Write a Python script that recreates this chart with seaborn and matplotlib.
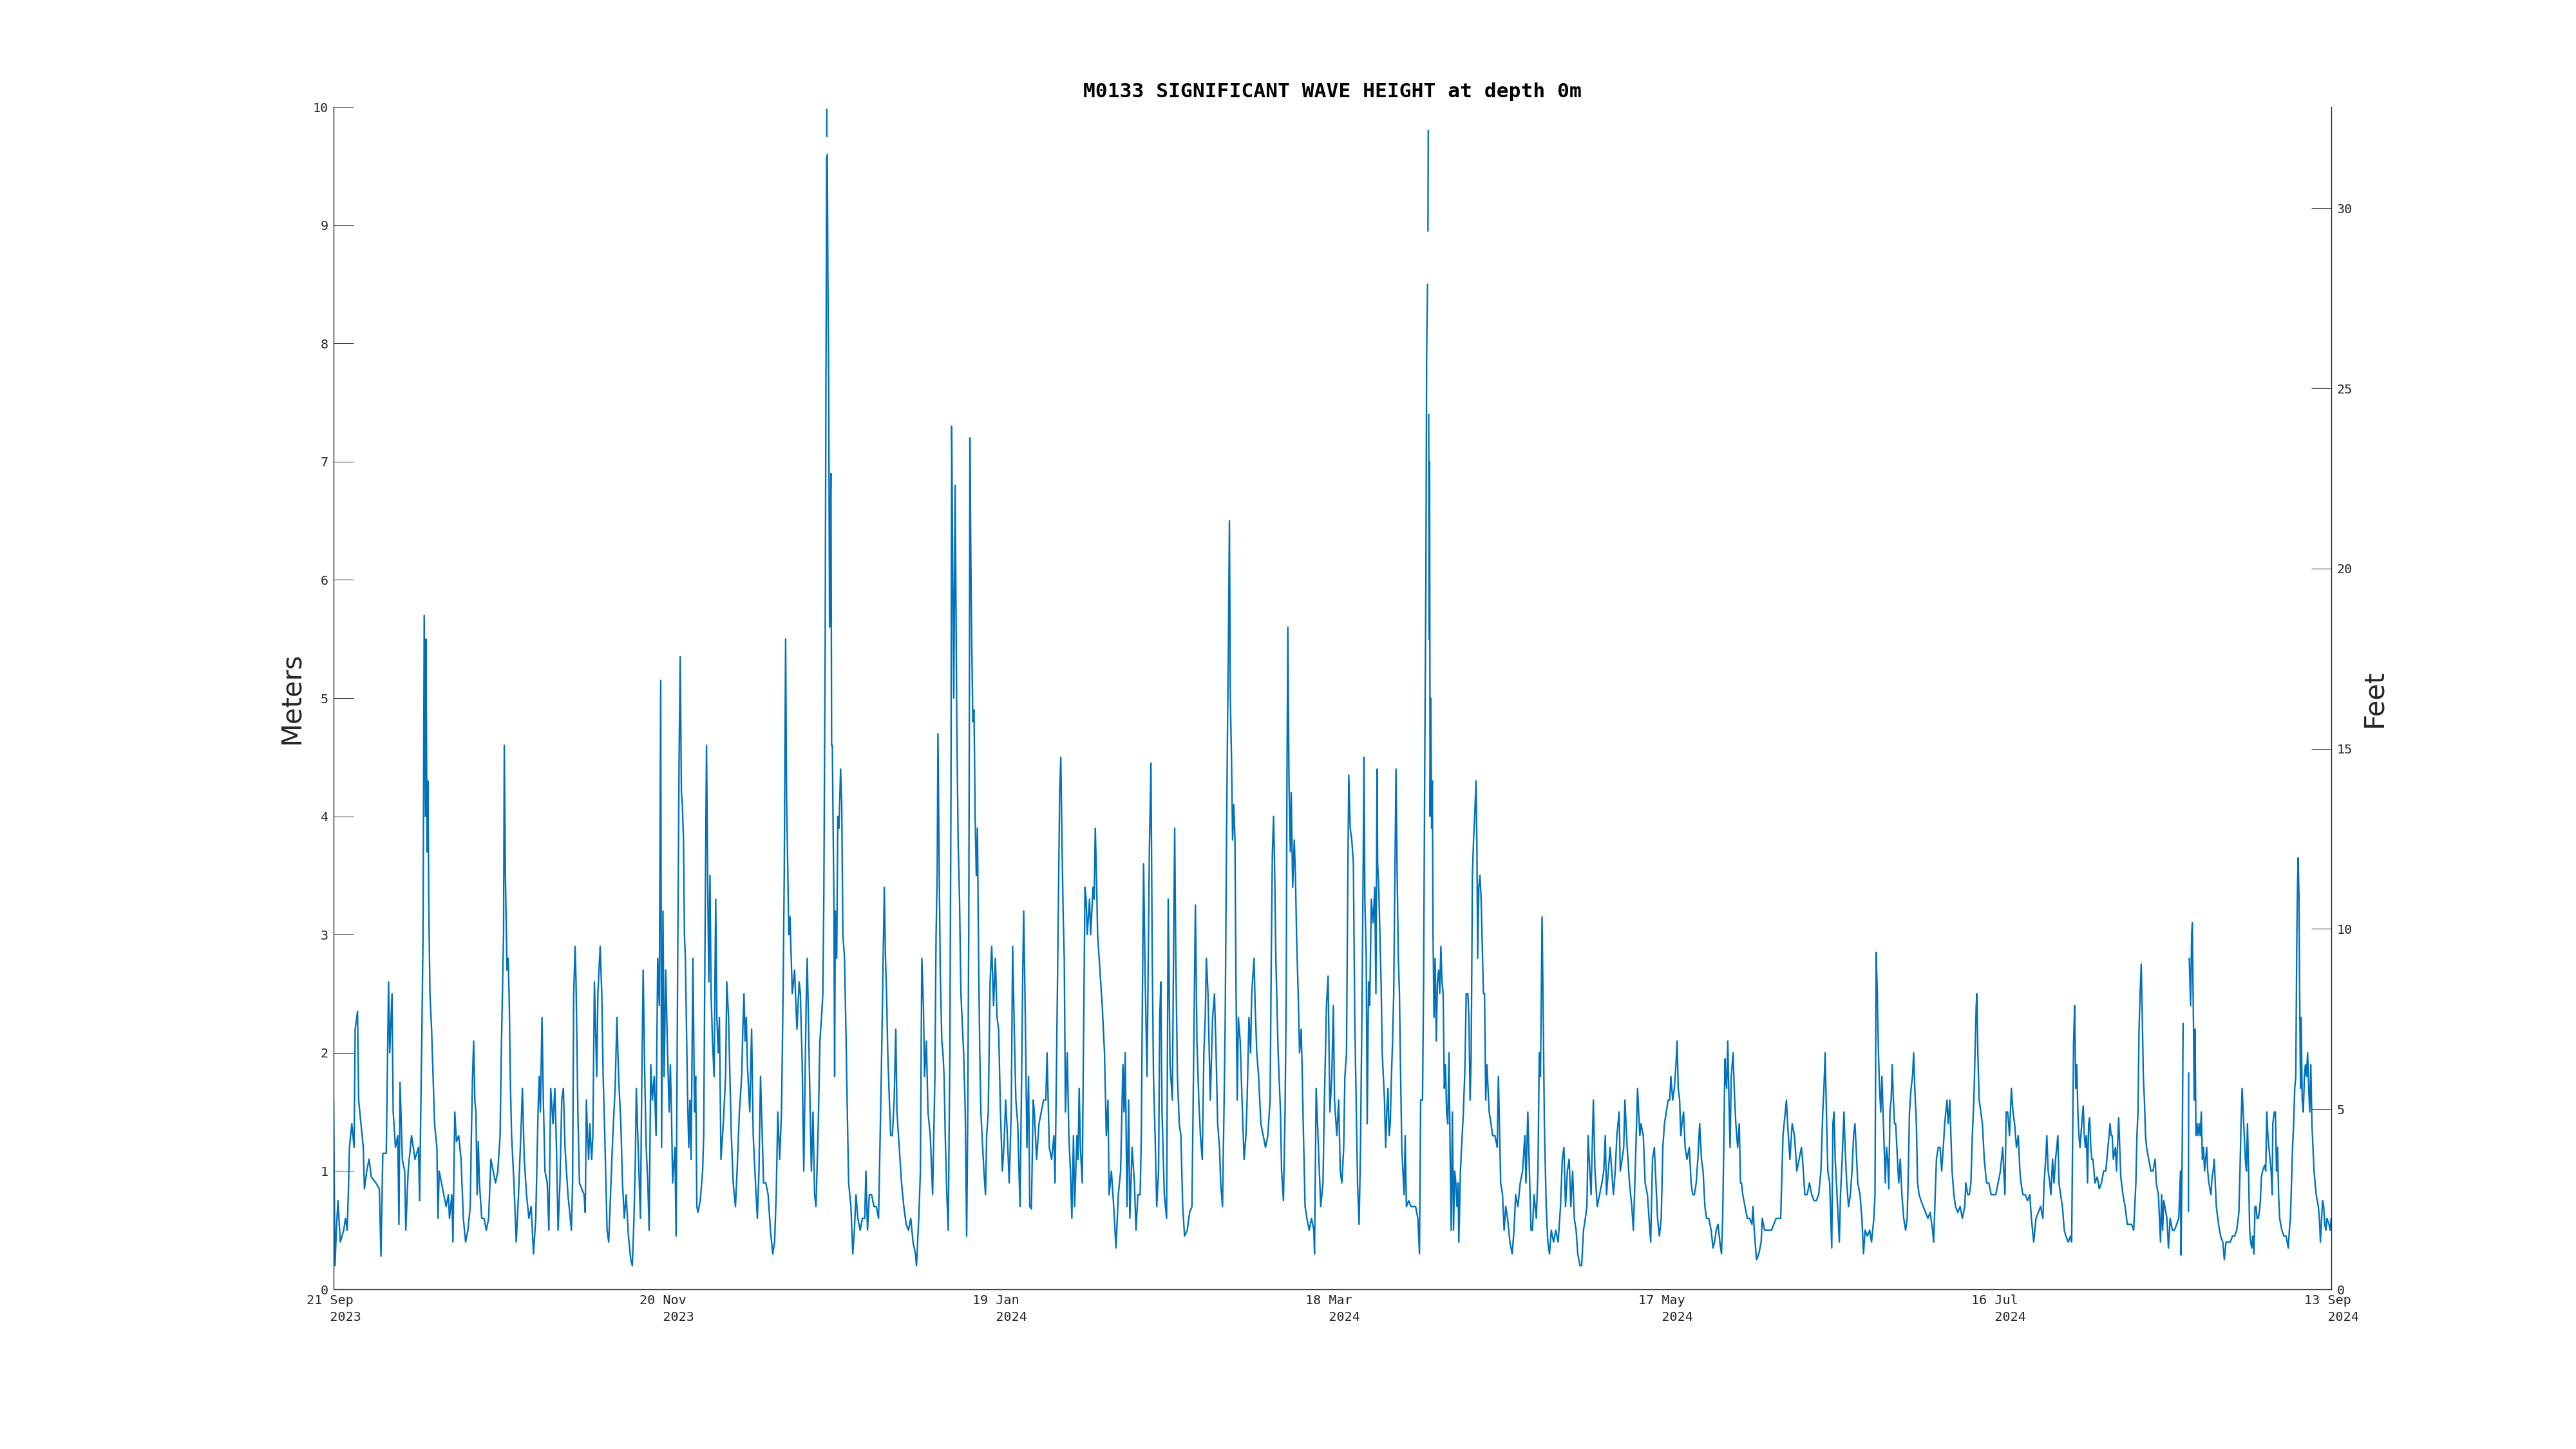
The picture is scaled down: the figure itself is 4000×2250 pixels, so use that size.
import numpy as np
import pandas as pd
import matplotlib
matplotlib.use("Agg")
import matplotlib.pyplot as plt
import matplotlib.dates as mdates
import seaborn as sns

nan = np.nan

# (days since start, significant wave height in metres)
seg1 = [(0.0, 1.6), (0.08, 1.1), (0.25, 0.2), (0.5, 0.5), (0.78, 0.75), (1.2, 0.4), (1.81, 0.5), (2.14, 0.6), (2.43, 0.5), (2.64, 0.8), (2.84, 1.2), (3.26, 1.4), (3.67, 1.2), (3.87, 2.2), (4.29, 2.35), (4.49, 1.6), (4.91, 1.4), (5.32, 1.2), (5.52, 0.85), (5.94, 1.0), (6.35, 1.1), (6.76, 0.95), (7.58, 0.9), (8.2, 0.85), (8.49, 0.28), (8.82, 1.15), (9.44, 1.15), (9.65, 1.9), (9.85, 2.6), (10.06, 2.0), (10.47, 2.5), (10.68, 1.5), (11.09, 1.2), (11.5, 1.3), (11.71, 0.55), (11.91, 1.75), (12.32, 1.1), (12.74, 1.0), (12.94, 0.5), (13.36, 1.0), (13.97, 1.3), (14.59, 1.1), (15.21, 1.2), (15.42, 0.75), (15.62, 1.5), (15.83, 2.2), (16.03, 3.0), (16.24, 5.7), (16.45, 4.0), (16.57, 5.5), (16.74, 3.7), (16.9, 4.3), (17.07, 3.2), (17.27, 2.5), (17.56, 2.2), (17.89, 1.7), (18.1, 1.4), (18.51, 1.2), (18.71, 0.6), (18.92, 1.0), (19.33, 0.9), (19.74, 0.8), (20.16, 0.7), (20.57, 0.8), (20.77, 0.6), (21.19, 0.8), (21.39, 0.4), (21.72, 1.5), (22.01, 1.25), (22.42, 1.3), (22.84, 1.1), (23.25, 0.6), (23.66, 0.4), (24.07, 0.5), (24.49, 0.7), (24.69, 1.3), (24.9, 1.8), (25.1, 2.1), (25.31, 1.6), (25.51, 1.5), (25.72, 0.8), (25.93, 1.25), (26.13, 0.9), (26.55, 0.6), (26.96, 0.6), (27.37, 0.5), (27.78, 0.6), (28.19, 1.1), (28.61, 1.0), (29.02, 0.9), (29.43, 1.0), (29.84, 1.3), (30.05, 2.0), (30.26, 2.5), (30.46, 3.0), (30.59, 4.6), (30.79, 3.5), (31.08, 2.7), (31.29, 2.8), (31.49, 2.4), (31.7, 1.7), (31.9, 1.3), (32.32, 0.9), (32.73, 0.4), (33.14, 0.8), (33.55, 1.3), (33.84, 1.7), (34.17, 1.1), (34.58, 0.8), (35.0, 0.6), (35.41, 0.7), (35.82, 0.3), (36.23, 0.6), (36.64, 1.5), (36.85, 1.8), (37.06, 1.5), (37.35, 2.3), (37.59, 1.6), (37.88, 1.0), (38.29, 0.9), (38.58, 0.5), (38.91, 1.7), (39.32, 1.4), (39.65, 1.7), (39.94, 1.2), (40.23, 0.5), (40.56, 0.9), (40.89, 1.6), (41.18, 1.7), (41.47, 1.2), (42.0, 0.8), (42.41, 0.6), (42.62, 0.5), (42.83, 0.9), (43.03, 2.5), (43.28, 2.9), (43.45, 2.6), (43.78, 1.5), (44.06, 0.9), (44.48, 0.85), (44.89, 0.8), (45.1, 0.65), (45.3, 1.6), (45.51, 1.3), (45.71, 1.1), (45.92, 1.4), (46.25, 1.1), (46.46, 1.3), (46.74, 2.6), (46.95, 2.2), (47.16, 1.8), (47.36, 2.5), (47.77, 2.9), (48.06, 2.5), (48.31, 1.8), (48.6, 1.3), (49.01, 0.5), (49.3, 0.4), (49.63, 0.8), (50.04, 1.3), (50.45, 1.7), (50.78, 2.3), (51.07, 1.8), (51.48, 1.4), (51.77, 0.9), (52.1, 0.6), (52.43, 0.8), (52.84, 0.45), (53.26, 0.25), (53.54, 0.2), (53.83, 0.6), (54.08, 1.1), (54.25, 1.7), (54.58, 1.2), (54.99, 0.6), (55.24, 1.8), (55.48, 2.7), (55.73, 1.9), (56.02, 1.2), (56.31, 0.9), (56.55, 0.5), (56.84, 1.9), (57.13, 1.6), (57.46, 1.8), (57.79, 1.3), (58.08, 2.8), (58.37, 2.4), (58.62, 5.15), (58.78, 1.2), (59.03, 3.2), (59.23, 1.8), (59.52, 2.7), (59.85, 2.0), (60.14, 1.5), (60.35, 1.9), (60.55, 1.5), (60.76, 0.9), (61.17, 1.2), (61.38, 0.45), (61.67, 2.8), (61.92, 4.5), (62.12, 5.35)]

seg2 = [(62.33, 4.2), (62.5, 4.1), (62.71, 3.8), (62.87, 3.0), (63.04, 2.8), (63.24, 2.2), (63.45, 1.6), (63.65, 1.2), (63.86, 1.6), (64.07, 1.1), (64.4, 2.8), (64.68, 1.5), (64.89, 1.8), (65.1, 0.7), (65.3, 0.65), (65.71, 0.75), (66.13, 1.0), (66.33, 1.3), (66.54, 2.8), (66.83, 4.6), (67.03, 3.5), (67.24, 2.6), (67.45, 3.5), (67.65, 2.5), (67.9, 2.1), (68.19, 1.8), (68.48, 3.3), (68.68, 2.3), (68.93, 2.0), (69.14, 2.3), (69.42, 1.1), (69.84, 1.4), (70.25, 1.8), (70.46, 2.6), (70.78, 2.3), (71.07, 1.7), (71.28, 1.3), (71.61, 0.9), (72.02, 0.7), (72.31, 1.0), (72.72, 1.5), (73.13, 1.8), (73.34, 2.2), (73.55, 2.5), (73.75, 2.1), (73.96, 2.3), (74.16, 1.9), (74.58, 1.5), (74.91, 2.2), (75.2, 1.3), (75.61, 0.9), (75.94, 0.6), (76.23, 1.0), (76.51, 1.8), (76.76, 1.4), (77.05, 0.9), (77.46, 0.9), (77.87, 0.8), (78.29, 0.5), (78.7, 0.3), (79.03, 0.4), (79.32, 0.8), (79.61, 1.5), (79.94, 1.1), (80.27, 1.5), (80.55, 2.5), (80.76, 3.5), (81.01, 5.5), (81.17, 4.2), (81.34, 3.7), (81.58, 3.0), (81.79, 3.15), (82.2, 2.5), (82.61, 2.7), (83.03, 2.2), (83.44, 2.6), (83.65, 2.5), (83.98, 1.9), (84.26, 1.0), (84.68, 2.4), (84.88, 2.8), (85.29, 1.8), (85.62, 1.0), (85.91, 1.5), (86.2, 0.8), (86.45, 0.7), (86.86, 1.4), (87.15, 2.1), (87.44, 2.3), (87.68, 2.5), (87.85, 3.3), (88.1, 5.5), (88.22, 7.5), (88.3, 8.5), (88.36, 9.58), (88.37, nan), (88.38, 9.75), (88.39, 9.98), (88.4, nan), (88.47, 9.6), (88.59, 8.5), (88.72, 7.7), (88.88, 5.6), (89.0, 6.4), (89.13, 6.9), (89.25, 4.6), (89.38, 4.6), (89.5, 4.0), (89.66, 3.3), (89.79, 1.8), (89.91, 3.2), (90.16, 2.8), (90.36, 4.0), (90.57, 3.9), (90.86, 4.4), (91.06, 4.1), (91.27, 3.0), (91.56, 2.8), (91.81, 2.2), (92.1, 1.4), (92.3, 0.9), (92.71, 0.7), (93.04, 0.3), (93.33, 0.5), (93.62, 0.8), (93.95, 0.6), (94.36, 0.5), (94.77, 0.6), (95.19, 0.6), (95.39, 1.0), (95.68, 0.5), (96.01, 0.8), (96.42, 0.8), (96.84, 0.7), (97.25, 0.7), (97.66, 0.6), (97.87, 1.1), (98.15, 1.8), (98.48, 2.8), (98.69, 3.4), (98.9, 2.8), (99.1, 2.5), (99.31, 2.0), (99.6, 1.6), (99.84, 1.3), (100.13, 1.3), (100.46, 1.6), (100.75, 2.2), (100.96, 1.5), (101.37, 1.2), (101.78, 0.9), (102.19, 0.7), (102.61, 0.55), (103.02, 0.5), (103.43, 0.6), (103.84, 0.4), (104.26, 0.3), (104.46, 0.2), (104.87, 0.6), (105.16, 1.0), (105.41, 2.8), (105.7, 2.4), (105.9, 1.8), (106.23, 2.1), (106.52, 1.5), (106.93, 1.3), (107.35, 0.8), (107.76, 1.8), (107.97, 3.0), (108.17, 3.5), (108.3, 4.7), (108.46, 3.9), (108.71, 2.7), (109.0, 2.1), (109.2, 2.0), (109.41, 1.8), (109.61, 1.3), (109.9, 0.8), (110.15, 0.5), (110.44, 2.0), (110.64, 4.2), (110.77, 7.3), (110.93, 6.2), (111.14, 5.0), (111.39, 6.8), (111.68, 4.8), (111.92, 3.8), (112.17, 3.3), (112.42, 2.5), (112.71, 2.2), (112.91, 2.0), (113.2, 1.5), (113.45, 0.45), (113.65, 1.5), (113.82, 3.0), (113.94, 4.9), (114.03, 7.2), (114.23, 6.0), (114.35, 5.5), (114.56, 4.8), (114.77, 4.9), (114.97, 4.0), (115.18, 3.5), (115.38, 3.9), (115.59, 2.8), (115.8, 2.0), (116.0, 1.5), (116.21, 1.3), (116.54, 1.0), (116.83, 0.8), (117.03, 1.3), (117.32, 1.5), (117.65, 2.6), (117.94, 2.9), (118.27, 2.4), (118.6, 2.8), (118.89, 2.3), (119.18, 2.2), (119.51, 1.5), (119.84, 1.0), (120.12, 1.2), (120.45, 1.6), (120.74, 1.3), (121.07, 0.9), (121.44, 1.5), (121.69, 2.9), (121.98, 2.2), (122.27, 1.6), (122.6, 1.4), (123.01, 0.7), (123.3, 1.8), (123.51, 2.7), (123.67, 3.2), (123.96, 2.3), (124.25, 1.2), (124.54, 1.8)]

seg3 = [(124.76, 0.7), (125.05, 0.68), (125.38, 1.6), (125.58, 1.5), (125.99, 1.1), (126.41, 1.4), (126.82, 1.5), (127.23, 1.6), (127.64, 1.6), (127.85, 2.0), (128.26, 1.2), (128.67, 1.1), (129.09, 1.3), (129.29, 0.9), (129.58, 2.0), (129.83, 3.0), (130.12, 4.2), (130.32, 4.5), (130.53, 3.8), (130.73, 3.2), (130.94, 2.8), (131.15, 1.5), (131.48, 2.0), (131.76, 1.3), (132.05, 1.0), (132.3, 0.6), (132.59, 1.3), (132.8, 0.7), (133.21, 1.3), (133.41, 1.1), (133.62, 1.7), (133.83, 1.2), (134.16, 0.9), (134.44, 2.3), (134.65, 3.4), (134.86, 3.3), (135.06, 3.0), (135.47, 3.3), (135.68, 3.0), (136.09, 3.4), (136.3, 3.3), (136.5, 3.9), (136.71, 3.5), (136.92, 3.0), (137.33, 2.7), (137.74, 2.4), (138.15, 2.0), (138.48, 1.3), (138.77, 1.6), (138.98, 0.8), (139.39, 1.0), (139.8, 0.7), (140.21, 0.35), (140.63, 0.8), (141.04, 1.0), (141.45, 1.9), (141.66, 1.5), (141.86, 2.0), (142.19, 0.7), (142.48, 1.6), (142.69, 0.6), (143.1, 1.2), (143.51, 0.9), (143.8, 0.5), (144.13, 0.8), (144.54, 0.8), (144.75, 1.3), (144.95, 2.5), (145.16, 3.6), (145.45, 2.6), (145.78, 1.8), (145.99, 2.8), (146.19, 3.7), (146.48, 4.45), (146.69, 2.9), (146.93, 1.8), (147.22, 1.3), (147.51, 0.7), (147.84, 1.0), (148.05, 2.3), (148.25, 2.6), (148.46, 1.5), (148.87, 0.8), (149.28, 0.6), (149.57, 3.3), (149.9, 1.9), (150.31, 1.6), (150.52, 2.8), (150.73, 3.9), (150.93, 2.8), (151.22, 1.8), (151.55, 1.4), (151.84, 1.3), (152.17, 0.7), (152.5, 0.45), (152.99, 0.5), (153.4, 0.65), (153.82, 0.7), (154.02, 1.5), (154.23, 2.4), (154.44, 3.25), (154.72, 2.1), (155.05, 1.6), (155.34, 1.3), (155.67, 1.1), (155.96, 2.0), (156.21, 2.3), (156.41, 2.8), (156.7, 2.5), (157.11, 1.6), (157.53, 2.3), (157.86, 2.5), (158.15, 2.0), (158.43, 1.4), (158.76, 1.2), (158.97, 0.9), (159.3, 0.7), (159.59, 1.6), (159.79, 2.3), (160.0, 3.7), (160.21, 4.8), (160.33, 5.3), (160.54, 6.5), (160.7, 5.0), (160.91, 4.5), (161.11, 3.8), (161.32, 4.1), (161.53, 3.8), (161.73, 2.5), (161.94, 1.6), (162.14, 2.3), (162.47, 2.1), (162.8, 1.6), (163.17, 1.1), (163.5, 1.3), (163.71, 1.6), (164.04, 2.3), (164.33, 2.0), (164.53, 2.5), (164.95, 2.8), (165.15, 2.4), (165.44, 2.0), (165.77, 1.8), (166.18, 1.4), (166.6, 1.3), (167.01, 1.2), (167.42, 1.3), (167.83, 1.6), (168.04, 2.8), (168.24, 3.7), (168.45, 4.0), (168.66, 3.5), (168.86, 2.8), (169.27, 2.0), (169.69, 1.5), (169.89, 1.0), (170.22, 0.75), (170.51, 1.5), (170.72, 2.5), (170.84, 4.2), (171.01, 5.6), (171.21, 4.3), (171.46, 3.7), (171.62, 4.2), (171.87, 3.4), (172.16, 3.8), (172.37, 3.5), (172.57, 3.0), (172.86, 2.5), (173.11, 2.0), (173.4, 2.2), (173.6, 1.8), (173.81, 1.3), (174.1, 0.7), (174.43, 0.6), (174.84, 0.5), (175.25, 0.6), (175.66, 0.5), (175.79, 0.3), (176.08, 1.7), (176.49, 1.2), (176.9, 0.7), (177.31, 0.9), (177.52, 1.5), (177.93, 2.4), (178.22, 2.65), (178.55, 1.5), (178.88, 1.8), (179.17, 2.4), (179.37, 1.6), (179.79, 1.3), (180.12, 1.6), (180.4, 1.0), (180.69, 0.9), (181.02, 1.2), (181.23, 1.8), (181.52, 2.0), (181.76, 3.5), (181.93, 4.35), (182.18, 3.9), (182.47, 3.8), (182.75, 3.6), (183.0, 2.3), (183.29, 1.5), (183.5, 0.9), (183.78, 0.55), (184.03, 1.2), (184.32, 2.5), (184.53, 3.7), (184.65, 4.5), (184.81, 3.3), (185.06, 2.8), (185.23, 1.4), (185.47, 2.6), (185.68, 2.4), (185.97, 3.3), (186.3, 3.1), (186.59, 3.4), (186.79, 2.5), (187.0, 4.4)]

seg4 = [(187.1, 3.6), (187.3, 3.4), (187.51, 3.0), (187.72, 2.6), (187.92, 2.0), (188.13, 1.8), (188.33, 1.6), (188.54, 1.2), (188.75, 1.5), (188.95, 1.7), (189.16, 1.3), (189.36, 1.4), (189.57, 1.8), (189.78, 2.1), (189.98, 2.5), (190.19, 3.5), (190.39, 4.4), (190.6, 3.5), (190.81, 2.8), (191.01, 2.5), (191.22, 1.8), (191.43, 1.2), (191.63, 1.0), (191.84, 0.8), (192.04, 1.3), (192.25, 0.7), (192.66, 0.75), (193.07, 0.7), (193.49, 0.7), (193.9, 0.7), (194.31, 0.6), (194.6, 0.3), (194.81, 1.6), (195.14, 1.6), (195.34, 2.6), (195.55, 4.5), (195.75, 6.0), (195.88, 7.9), (196.04, 8.5), (196.08, nan), (196.12, 8.95), (196.17, 9.8), (196.2, nan), (196.25, 7.4), (196.33, 5.5), (196.41, 7.0), (196.5, 4.0), (196.62, 5.0), (196.78, 3.9), (196.91, 4.3), (197.03, 3.0), (197.2, 2.3), (197.4, 2.8), (197.61, 2.1), (197.81, 2.6), (198.02, 2.7), (198.23, 2.5), (198.43, 2.9), (198.64, 2.6), (198.84, 2.5), (199.05, 1.7), (199.26, 1.9), (199.46, 1.5), (199.67, 1.4), (199.88, 2.0), (200.08, 1.2), (200.29, 0.5), (200.49, 1.5), (200.7, 0.5), (200.91, 1.0), (201.11, 0.9), (201.32, 0.7), (201.52, 0.9), (201.65, 0.4), (201.94, 1.0), (202.14, 1.2), (202.47, 1.5), (202.76, 1.9), (202.97, 2.5), (203.26, 2.5), (203.46, 2.3), (203.67, 1.6), (203.87, 2.0), (204.08, 3.5), (204.29, 3.8), (204.49, 4.0), (204.74, 4.3), (204.9, 3.7), (205.03, 2.8), (205.23, 3.4), (205.44, 3.5), (205.65, 3.3), (205.85, 2.9), (206.06, 2.5), (206.26, 2.5), (206.47, 1.6), (206.68, 1.9), (206.88, 1.7), (207.09, 1.5), (207.42, 1.4), (207.71, 1.3), (208.12, 1.3), (208.53, 1.2), (208.74, 1.8), (209.15, 0.9), (209.48, 0.8), (209.77, 0.5), (210.06, 0.7), (210.39, 0.6), (210.8, 0.4), (211.21, 0.3), (211.54, 0.5), (211.83, 0.8), (212.24, 0.7), (212.65, 0.9), (213.07, 1.0), (213.48, 1.3), (213.68, 0.9), (214.01, 1.5), (214.3, 1.0), (214.59, 0.5), (214.84, 0.5), (215.13, 0.8), (215.54, 0.6), (215.83, 1.0), (216.07, 2.0), (216.28, 1.8), (216.57, 3.15), (216.78, 2.3), (216.98, 1.4), (217.31, 0.7), (217.6, 0.4), (217.89, 0.3), (218.22, 0.5), (218.63, 0.4), (219.04, 0.5), (219.45, 0.4), (219.87, 0.7), (220.2, 1.1), (220.49, 1.2), (220.77, 0.7), (221.1, 1.0), (221.43, 1.1), (221.72, 0.7), (222.05, 1.0), (222.34, 0.6), (222.67, 0.5), (222.96, 0.3), (223.37, 0.2), (223.66, 0.2), (223.99, 0.5), (224.32, 0.6), (224.61, 0.7), (224.81, 1.3), (225.02, 1.1), (225.35, 0.8), (225.76, 1.6), (226.05, 1.0), (226.46, 0.7), (226.87, 0.8), (227.29, 0.9), (227.62, 1.0), (227.9, 1.3), (228.11, 0.8), (228.44, 1.0), (228.77, 1.2), (229.06, 1.0), (229.35, 0.8), (229.68, 1.0), (229.97, 1.3), (230.38, 1.5), (230.58, 1.0), (230.91, 1.1), (231.2, 1.2), (231.41, 1.6), (231.82, 1.2), (232.23, 0.9), (232.65, 0.7), (232.93, 0.5), (233.26, 1.0), (233.68, 1.7), (234.09, 1.3), (234.29, 1.4), (234.71, 1.3), (235.04, 0.9), (235.45, 0.8), (235.74, 0.6), (236.03, 0.4), (236.36, 1.1), (236.69, 1.2), (236.97, 0.9), (237.26, 0.6), (237.59, 0.45), (237.92, 0.6), (238.21, 1.2), (238.5, 1.4), (238.83, 1.5), (239.16, 1.6), (239.45, 1.6), (239.65, 1.8), (239.98, 1.6), (240.27, 1.7), (240.56, 1.9), (240.77, 2.1), (240.97, 1.7), (241.22, 1.6), (241.43, 1.3), (241.63, 1.4), (241.92, 1.5), (242.21, 1.2), (242.54, 1.1), (242.95, 1.2), (243.28, 0.9), (243.57, 0.8), (243.86, 0.8), (244.19, 0.9), (244.48, 1.1), (244.81, 1.4), (245.13, 1.1), (245.42, 1.0), (245.75, 0.7), (246.04, 0.6), (246.45, 0.6), (246.87, 0.5), (247.2, 0.35), (247.48, 0.4), (247.77, 0.5), (248.1, 0.55), (248.43, 0.4), (248.72, 0.3), (248.93, 0.6), (249.13, 1.2), (249.34, 1.95)]

seg5 = [(249.44, 1.8), (249.64, 1.7), (249.85, 2.1), (250.06, 1.6), (250.26, 1.2), (250.47, 1.8), (250.8, 2.0), (251.0, 1.7), (251.29, 1.4), (251.62, 1.2), (251.91, 1.4), (252.12, 0.9), (252.32, 0.9), (252.53, 0.8), (252.94, 0.7), (253.35, 0.6), (253.77, 0.6), (254.18, 0.55), (254.38, 0.7), (254.59, 0.5), (255.0, 0.25), (255.41, 0.3), (255.83, 0.4), (256.03, 0.6), (256.44, 0.5), (256.86, 0.5), (257.27, 0.5), (257.68, 0.5), (258.09, 0.55), (258.51, 0.6), (258.92, 0.6), (259.33, 0.6), (259.74, 1.3), (259.95, 1.4), (260.36, 1.6), (260.57, 1.4), (260.98, 1.1), (261.39, 1.4), (261.8, 1.3), (262.22, 1.0), (262.63, 1.1), (263.04, 1.2), (263.25, 1.1), (263.66, 0.8), (264.07, 0.8), (264.48, 0.9), (264.89, 0.8), (265.31, 0.75), (265.72, 0.75), (266.13, 0.8), (266.54, 1.0), (266.87, 1.5), (267.08, 1.7), (267.29, 2.0), (267.57, 1.4), (267.78, 1.0), (268.11, 0.9), (268.48, 0.35), (268.69, 1.4), (268.89, 1.5), (269.1, 1.1), (269.43, 0.8), (269.84, 0.4), (270.05, 0.8), (270.34, 1.1), (270.67, 1.5), (270.87, 1.2), (271.16, 0.9), (271.49, 0.7), (271.82, 0.8), (272.11, 1.0), (272.4, 1.3), (272.64, 1.4), (272.85, 1.2), (273.14, 0.9), (273.55, 0.8), (273.88, 0.6), (274.17, 0.3), (274.46, 0.5), (274.87, 0.45), (275.28, 0.5), (275.61, 0.4), (276.02, 0.6), (276.23, 0.8), (276.44, 2.85), (276.64, 2.5), (276.85, 2.0), (277.05, 1.7), (277.26, 1.5), (277.47, 1.8), (277.67, 1.5), (277.88, 1.2), (278.08, 0.9), (278.29, 1.2), (278.5, 1.1), (278.7, 0.85), (278.91, 1.5), (279.12, 1.6), (279.32, 1.9), (279.53, 1.6), (279.73, 1.4), (279.94, 1.4), (280.15, 1.2), (280.48, 0.9), (280.76, 1.1), (281.05, 0.8), (281.38, 0.6), (281.71, 0.5), (282.0, 0.6), (282.21, 1.0), (282.41, 1.5), (282.7, 1.7), (282.95, 1.8), (283.16, 2.0), (283.36, 1.7), (283.65, 1.4), (283.86, 0.9), (284.14, 0.8), (284.47, 0.75), (284.89, 0.7), (285.3, 0.65), (285.71, 0.6), (286.12, 0.65), (286.54, 0.5), (286.74, 0.4), (286.95, 0.7), (287.24, 1.1), (287.57, 1.2), (287.9, 1.2), (288.18, 1.0), (288.47, 1.2), (288.72, 1.4), (288.93, 1.5), (289.13, 1.6), (289.34, 1.4), (289.63, 1.6), (289.83, 1.3), (290.04, 1.0), (290.37, 0.8), (290.66, 0.7), (291.07, 0.65), (291.48, 0.7), (291.89, 0.6), (292.31, 0.7), (292.51, 0.9), (292.84, 0.8), (293.13, 0.8), (293.42, 0.9), (293.67, 1.3), (293.95, 1.6), (294.16, 2.0), (294.37, 2.4), (294.49, 2.5), (294.66, 2.0), (294.9, 1.6), (295.19, 1.5), (295.48, 1.4), (295.81, 1.1), (296.22, 0.9), (296.63, 0.9), (297.05, 0.8), (297.46, 0.8), (297.87, 0.8), (298.28, 0.9), (298.7, 1.0), (299.11, 1.2), (299.31, 1.0), (299.52, 0.8), (299.73, 1.5), (300.01, 1.5), (300.34, 1.3), (300.67, 1.7), (300.96, 1.5), (301.25, 1.4), (301.58, 1.2), (301.91, 1.3), (302.2, 1.0), (302.4, 0.9), (302.73, 0.8), (303.15, 0.8), (303.56, 0.75), (303.97, 0.8), (304.26, 0.6), (304.67, 0.4), (305.08, 0.6), (305.5, 0.65), (305.91, 0.7), (306.32, 0.6), (306.53, 0.9), (306.82, 1.1), (307.02, 1.3), (307.27, 1.0), (307.56, 0.9), (307.76, 0.8), (308.05, 1.1), (308.3, 0.9), (308.59, 1.1), (309.0, 1.3), (309.21, 0.9), (309.49, 0.8), (309.82, 0.7), (310.15, 0.5), (310.44, 0.45), (310.85, 0.4), (311.27, 0.45), (311.47, 0.4)]

seg6 = [(311.82, 2.1), (312.01, 2.4), (312.2, 1.7), (312.39, 1.9), (312.59, 1.5), (312.78, 1.3), (312.97, 1.2), (313.28, 1.4), (313.55, 1.55), (313.74, 1.3), (313.93, 1.2), (314.13, 1.3), (314.32, 0.9), (314.51, 1.4), (314.7, 1.45), (314.9, 1.2), (315.09, 1.1), (315.28, 1.1), (315.47, 1.0), (315.66, 0.9), (316.05, 0.95), (316.43, 0.85), (316.82, 0.9), (317.2, 1.0), (317.59, 1.0), (317.97, 1.2), (318.36, 1.4), (318.55, 1.3), (318.74, 1.3), (318.94, 1.1), (319.32, 1.2), (319.51, 1.0), (319.9, 1.45), (320.09, 1.2), (320.28, 0.95), (320.67, 0.8), (321.05, 0.7), (321.44, 0.55), (321.82, 0.55), (322.21, 0.55), (322.59, 0.5), (322.78, 0.7), (322.98, 0.9), (323.17, 1.3), (323.36, 1.5), (323.55, 2.2), (323.74, 2.5), (323.94, 2.75), (324.13, 2.3), (324.32, 1.8), (324.51, 1.6), (324.71, 1.3), (324.9, 1.2), (325.28, 1.1), (325.67, 1.0), (326.05, 1.0), (326.44, 1.1), (326.63, 0.9), (327.02, 0.8), (327.21, 0.6), (327.4, 0.4), (327.59, 0.8), (327.78, 0.5), (327.98, 0.75), (328.17, 0.7), (328.55, 0.6), (328.82, 0.35), (329.13, 0.6), (329.52, 0.5), (329.9, 0.5), (330.29, 0.55), (330.67, 0.6), (330.98, 1.0), (331.07, 0.29), (331.29, 1.2), (331.45, 2.25), (331.8, nan), (332.4, 0.66), (332.44, 1.83), (332.48, nan), (332.55, 2.8), (332.79, 2.4), (332.98, 3.0), (333.09, 3.1), (333.29, 2.3), (333.44, 1.6), (333.59, 2.2), (333.75, 1.3), (333.94, 1.4), (334.13, 1.3), (334.33, 1.4), (334.52, 1.3), (334.71, 1.5), (334.9, 1.1), (335.1, 1.2), (335.29, 1.0), (335.67, 1.2), (335.86, 1.0), (336.06, 0.9), (336.44, 0.8), (336.63, 0.95), (336.83, 1.0), (337.02, 1.1), (337.21, 0.9), (337.4, 0.7), (337.79, 0.55), (338.17, 0.45), (338.56, 0.4), (338.83, 0.25), (339.14, 0.4), (339.52, 0.4), (339.9, 0.4), (340.29, 0.45), (340.67, 0.45), (341.06, 0.5), (341.44, 0.65), (341.64, 1.0), (341.83, 1.4), (342.02, 1.7), (342.21, 1.5), (342.41, 1.3), (342.6, 1.1), (342.79, 1.0), (342.98, 1.4), (343.18, 1.0), (343.37, 0.5), (343.56, 0.4), (343.75, 0.35), (343.94, 0.45), (344.14, 0.3), (344.33, 0.7), (344.52, 0.7), (344.71, 0.6), (344.91, 0.6), (345.1, 0.65), (345.29, 0.75), (345.48, 0.95), (345.68, 1.0), (346.06, 1.05), (346.25, 1.0), (346.45, 1.5), (346.64, 1.3), (346.83, 1.2), (347.02, 1.1), (347.22, 1.0), (347.41, 0.8), (347.52, 1.4), (347.79, 1.5), (347.99, 1.5), (348.18, 1.0), (348.37, 1.2), (348.56, 0.8), (348.75, 0.6), (349.14, 0.5), (349.52, 0.45), (349.91, 0.45), (350.1, 0.4), (350.29, 0.35), (350.49, 0.5), (350.68, 0.6), (350.87, 0.9), (351.06, 1.2), (351.26, 1.4), (351.45, 1.7), (351.64, 1.8), (351.83, 3.0), (351.95, 3.4), (352.06, 3.65), (352.22, 3.3), (352.33, 2.5), (352.49, 1.7), (352.6, 2.3), (352.79, 1.6), (352.99, 1.5), (353.18, 1.8), (353.37, 1.9), (353.56, 1.8), (353.76, 2.0), (353.95, 1.7), (354.14, 1.5), (354.33, 1.9), (354.53, 1.4), (354.72, 1.2), (354.91, 1.0), (355.1, 0.9), (355.3, 0.8), (355.49, 0.75), (355.68, 0.7), (355.87, 0.6), (356.06, 0.4), (356.26, 0.6), (356.45, 0.75), (356.64, 0.7), (356.83, 0.55), (357.03, 0.5), (357.22, 0.6), (357.6, 0.55), (357.8, 0.5), (357.99, 0.6)]

start = pd.Timestamp("2023-09-21 18:00")
span_days = 358
m_to_ft = 3.28084
mono = ["DejaVu Sans Mono", "DejaVu Sans"]
ink = "#262626"

df = pd.DataFrame(seg1 + seg2 + seg3 + seg4 + seg5 + seg6, columns=["day", "hs"])
df["time"] = start + pd.to_timedelta(df["day"], unit="D")
# NaN rows mark gaps in the record -> split into separate line pieces
df["piece"] = df["hs"].isna().cumsum()
df = df.dropna()

sns.set_theme(style="white")
plt.rcParams["font.family"] = mono

fig = plt.figure(figsize=(40, 22.5), dpi=100)
ax = fig.add_axes([0.1295, 0.1102, 0.7755, 0.816])

sns.lineplot(data=df, x="time", y="hs", units="piece", estimator=None,
             sort=False, color="#0072BD", linewidth=1.7, ax=ax)

end = start + pd.Timedelta(days=span_days)
ax.set_xlim(mdates.date2num(start), mdates.date2num(end))
ax.set_ylim(0, 10)
ax.set_yticks(range(0, 11))

xt = [start + pd.Timedelta(days=span_days * k / 6) for k in range(7)]
ax.set_xticks([mdates.date2num(t) for t in xt])
ax.set_xticklabels([f"{t:%d %b}\n   {t:%Y}" for t in xt],
                   multialignment="left", linespacing=1.45)

ax.set_xlabel("")
ax.set_ylabel("Meters", fontsize=30, family="DejaVu Sans", color=ink, labelpad=9)
ax.set_title("M0133 SIGNIFICANT WAVE HEIGHT at depth 0m", fontsize=22.5,
             fontweight="bold", pad=11, color="black")

ax.tick_params(axis="both", direction="in", length=22, width=0.7,
               labelsize=14.5, colors=ink, pad=6, top=False, right=False)
for s in ["top", "right"]:
    ax.spines[s].set_visible(False)
for s in ["left", "bottom"]:
    ax.spines[s].set_color(ink)
    ax.spines[s].set_linewidth(1.0)

# feet axis on the right
ax2 = ax.twinx()
ax2.set_ylim(0, 10 * m_to_ft)
ax2.set_yticks(range(0, 31, 5))
ax2.set_ylabel("Feet", fontsize=30, family="DejaVu Sans", color=ink, labelpad=9)
ax2.tick_params(axis="y", direction="in", length=22, width=0.7,
                labelsize=14.5, colors=ink, pad=6)
for s in ["top", "left", "bottom"]:
    ax2.spines[s].set_visible(False)
ax2.spines["right"].set_color(ink)
ax2.spines["right"].set_linewidth(1.0)

fig.savefig("out.png", dpi=100, facecolor="white")
